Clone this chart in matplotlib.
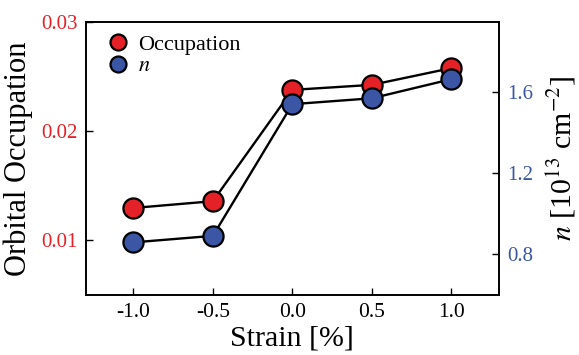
import matplotlib.pyplot as plt
from matplotlib.lines import Line2D

plt.rcParams["font.family"] = ["Liberation Serif", "DejaVu Serif"]
plt.rcParams["mathtext.fontset"] = "stix"

strain = [-1.0, -0.5, 0.0, 0.5, 1.0]
occupation = [0.01296, 0.01358, 0.02376, 0.02422, 0.02575]
density = [0.859, 0.891, 1.539, 1.568, 1.662]

red = "#e32127"
blue = "#3a56a5"

fig = plt.figure(figsize=(5.79, 3.55), dpi=100)
ax = fig.add_axes([0.148, 0.169, 0.714, 0.770])
ax2 = ax.twinx()

ax.plot(strain, occupation, color="black", lw=1.7, marker="o", ms=14.5,
        mfc=red, mec="black", mew=1.6, zorder=3)
ax2.plot(strain, density, color="black", lw=1.7, marker="o", ms=14.5,
         mfc=blue, mec="black", mew=1.6, zorder=3)

ax.set_xlim(-1.3, 1.3)
ax.set_ylim(0.005, 0.03)
ax2.set_ylim(0.6, 1.945)

ax.set_xticks(strain)
ax.set_xticklabels(["-1.0", "-0.5", "0.0", "0.5", "1.0"])
ax.set_yticks([0.01, 0.02, 0.03])
ax.set_yticklabels(["0.01", "0.02", "0.03"])
ax2.set_yticks([0.8, 1.2, 1.6])
ax2.set_yticklabels(["0.8", "1.2", "1.6"])

ax.tick_params(axis="x", direction="in", length=5, width=1, labelsize=15.5, pad=6)
ax.tick_params(axis="y", direction="in", length=5, width=1, labelsize=15,
               labelcolor=red, pad=6)
ax2.tick_params(axis="y", direction="in", length=5, width=1, labelsize=15,
                labelcolor=blue, pad=6)

for a in (ax, ax2):
    for s in a.spines.values():
        s.set_linewidth(1.2)

ax.set_xlabel("Strain [%]", fontsize=21.5, labelpad=2)
ax.set_ylabel("Orbital Occupation", fontsize=22, labelpad=6)
ax2.set_ylabel("$n$ [10$^{13}$ cm$^{-2}$]", fontsize=21.5, labelpad=8)

handles = [
    Line2D([], [], ls="none", marker="o", ms=11.5, mfc=red, mec="black", mew=1.6),
    Line2D([], [], ls="none", marker="o", ms=11.5, mfc=blue, mec="black", mew=1.6),
]
ax.legend(handles, ["Occupation", "$n$"], loc="upper left", frameon=False,
          fontsize=16, handletextpad=0.3, labelspacing=0.05,
          borderaxespad=0, bbox_to_anchor=(0.0235, 0.9864), handlelength=1.2)

fig.savefig("out.png", dpi=100)
